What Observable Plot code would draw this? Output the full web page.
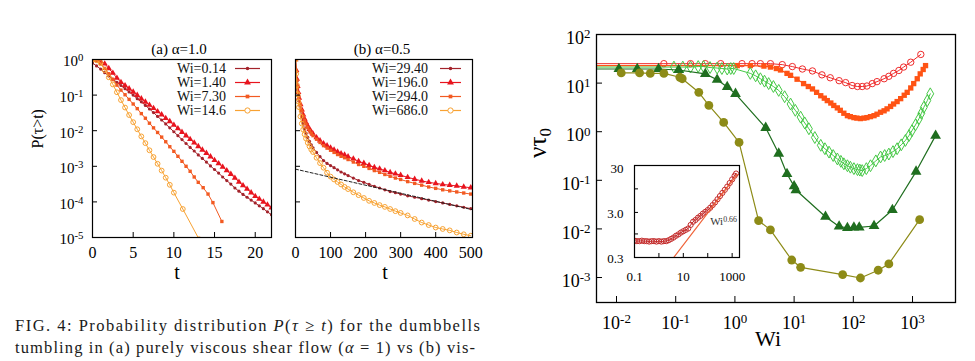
<!DOCTYPE html>
<html>
<head>
<meta charset="utf-8">
<script src="https://cdn.jsdelivr.net/npm/d3@7"></script>
<script src="https://cdn.jsdelivr.net/npm/@observablehq/plot@0.6"></script>
<style>
html,body{margin:0;padding:0;background:#fff;}
#root{position:relative;width:975px;height:361px;overflow:hidden;background:#fff;}
#root svg{position:absolute;}
</style>
</head>
<body>
<div id="root"></div>
<script>
const FONT = "'Liberation Serif','Times New Roman',Times,serif";

// ================= Panel (a): alpha = 1.0 (t, log10 P) =================
const tA = [0,0.5,1,1.5,2,2.5,3,3.5,4,4.5,5,5.5,6,6.5,7,7.5,8,8.5,9,9.5,10,10.5,11,11.5,12,12.5,13,13.5,14,14.5,15,15.5,16,16.5,17,17.5,18,18.5,19,19.5,20,20.5,21,21.5,22];
const logP_a_Wi014 = [-0.10,-0.18,-0.27,-0.37,-0.46,-0.55,-0.64,-0.73,-0.82,-0.91,-1.00,-1.10,-1.19,-1.29,-1.39,-1.49,-1.60,-1.70,-1.81,-1.92,-2.03,-2.14,-2.25,-2.36,-2.47,-2.57,-2.68,-2.78,-2.88,-2.99,-3.09,-3.19,-3.30,-3.40,-3.50,-3.61,-3.70,-3.79,-3.87,-3.95,-4.03,-4.11,-4.19,-4.28,-4.36];
const logP_a_Wi140 = [0.00,-0.02,-0.05,-0.12,-0.25,-0.38,-0.52,-0.64,-0.73,-0.82,-0.91,-1.00,-1.10,-1.19,-1.28,-1.37,-1.46,-1.55,-1.65,-1.74,-1.84,-1.94,-2.04,-2.14,-2.24,-2.34,-2.44,-2.54,-2.63,-2.73,-2.83,-2.92,-3.02,-3.12,-3.22,-3.33,-3.44,-3.54,-3.64,-3.74,-3.84,-3.92,-4.00,-4.08,-4.16];
const tA_Wi730 = [0,0.5,1,1.5,2,2.5,3,3.5,4,4.5,5,5.5,6,6.5,7,7.5,8,8.5,9,9.5,10,10.5,11,11.5,12,12.5,13,13.6,14.2,14.8,15.9];
const logP_a_Wi730 = [0.00,-0.04,-0.12,-0.25,-0.40,-0.56,-0.72,-0.86,-0.99,-1.12,-1.25,-1.38,-1.52,-1.65,-1.79,-1.92,-2.05,-2.18,-2.31,-2.45,-2.58,-2.72,-2.86,-3.00,-3.14,-3.30,-3.45,-3.60,-3.78,-4.02,-4.55];
const tA_Wi146 = [0,0.5,1,1.5,2,2.5,3,3.5,4,4.5,5,5.5,6,6.5,7,7.5,8,8.5,9,9.5,10,11.1,13.1];
const logP_a_Wi146 = [0.00,-0.02,-0.10,-0.30,-0.50,-0.70,-0.92,-1.14,-1.35,-1.56,-1.76,-1.96,-2.16,-2.35,-2.55,-2.74,-2.93,-3.12,-3.32,-3.52,-3.74,-4.20,-5.05];
const labelsA = ["Wi=0.14","Wi=1.40","Wi=7.30","Wi=14.6"];
const xTicksA = [0,5,10,15,20];
const yTicksP = [1,1e-1,1e-2,1e-3,1e-4,1e-5];

// ================= Panel (b): alpha = 0.5 =================
const tB = [0,2,4,6,8,10,14,18,22,26,30,35,40,45,50,60,70,80,90,100,110,120,130,140,150,165,180,195,210,225,240,255,270,285,300,320,340,360,380,400,420,440,460,480,500];
const logP_b_Wi2940 = [0.00,-0.35,-0.62,-0.85,-1.02,-1.17,-1.42,-1.62,-1.80,-1.95,-2.07,-2.19,-2.30,-2.40,-2.48,-2.61,-2.73,-2.84,-2.92,-2.98,-3.04,-3.10,-3.16,-3.21,-3.26,-3.33,-3.40,-3.45,-3.51,-3.56,-3.61,-3.66,-3.71,-3.74,-3.78,-3.83,-3.87,-3.91,-3.95,-3.99,-4.03,-4.07,-4.11,-4.15,-4.19];
const logP_b_Wi1960 = [0.00,-0.30,-0.55,-0.75,-0.92,-1.08,-1.26,-1.41,-1.55,-1.67,-1.77,-1.87,-1.96,-2.03,-2.09,-2.19,-2.28,-2.36,-2.42,-2.48,-2.54,-2.59,-2.64,-2.68,-2.73,-2.79,-2.86,-2.91,-2.97,-3.03,-3.07,-3.12,-3.17,-3.21,-3.25,-3.31,-3.36,-3.41,-3.45,-3.48,-3.51,-3.53,-3.55,-3.58,-3.60];
const logP_b_Wi2940b = [0.00,-0.32,-0.58,-0.78,-0.93,-1.05,-1.26,-1.44,-1.59,-1.71,-1.81,-1.91,-2.00,-2.07,-2.14,-2.24,-2.33,-2.42,-2.49,-2.55,-2.61,-2.67,-2.72,-2.76,-2.81,-2.88,-2.95,-3.00,-3.06,-3.12,-3.17,-3.23,-3.28,-3.33,-3.37,-3.43,-3.48,-3.53,-3.58,-3.62,-3.66,-3.69,-3.72,-3.75,-3.78];
const logP_b_Wi6860 = [0.00,-0.40,-0.72,-0.98,-1.18,-1.34,-1.60,-1.80,-1.97,-2.10,-2.22,-2.34,-2.44,-2.53,-2.60,-2.76,-2.91,-3.04,-3.18,-3.29,-3.37,-3.44,-3.51,-3.58,-3.64,-3.73,-3.81,-3.89,-3.97,-4.03,-4.09,-4.14,-4.20,-4.26,-4.31,-4.38,-4.48,-4.58,-4.65,-4.72,-4.76,-4.80,-4.86,-4.91,-4.95];
const tB_fit = [0,505];
const logP_b_fit = [-3.08,-4.22];
const labelsB = ["Wi=29.40","Wi=196.0","Wi=294.0","Wi=686.0"];
const xTicksB = [0,100,200,300,400,500];

// ================= Main panel: nu*tau0 vs Wi (log10 values) =================
const wiStartLog = -2.34; // plateau curves run in from the left axis
const lwRed = [-1.20,-0.75,-0.50,-0.24,0.12,0.29,0.43,0.60,0.80,0.97,1.14,1.31,1.47,1.61,1.76,1.87,1.98,2.07,2.15,2.23,2.32,2.40,2.52,2.60,2.68,2.77,2.85,2.97,3.14];
const lvRed = [1.40,1.40,1.40,1.40,1.40,1.40,1.40,1.40,1.38,1.34,1.29,1.25,1.17,1.11,1.05,1.01,0.95,0.93,0.93,0.94,0.99,1.03,1.09,1.14,1.20,1.26,1.33,1.43,1.59];
const lwOrange = [0.04,0.26,0.49,0.60,0.70,0.77,0.88,0.94,1.05,1.16,1.24,1.31,1.38,1.45,1.51,1.56,1.62,1.67,1.73,1.78,1.84,1.90,1.95,2.01,2.06,2.12,2.18,2.23,2.29,2.35,2.40,2.46,2.52,2.57,2.63,2.68,2.74,2.80,2.86,2.91,2.97,3.02,3.08,3.13,3.18,3.22];
const lvOrange = [1.36,1.36,1.35,1.33,1.30,1.27,1.20,1.16,1.08,0.99,0.93,0.88,0.81,0.74,0.69,0.64,0.59,0.54,0.49,0.44,0.38,0.33,0.31,0.29,0.28,0.27,0.28,0.29,0.31,0.33,0.36,0.40,0.43,0.47,0.52,0.57,0.62,0.68,0.75,0.81,0.90,0.99,1.09,1.19,1.28,1.36];
const lwLGreen = [-1.03,-0.88,-0.75,-0.62,-0.53,-0.42,-0.30,-0.22,-0.13,-0.07,-0.02,0.26,0.35,0.43,0.50,0.57,0.65,0.74,0.84,0.94,1.02,1.11,1.18,1.25,1.35,1.45,1.52,1.59,1.66,1.73,1.79,1.84,1.90,1.95,2.01,2.07,2.11,2.15,2.22,2.29,2.38,2.46,2.53,2.60,2.67,2.74,2.81,2.88,2.94,2.99,3.05,3.11,3.15,3.19,3.25,3.30];
const lvLGreen = [1.33,1.33,1.33,1.34,1.34,1.32,1.31,1.30,1.29,1.30,1.30,1.20,1.15,1.09,1.04,0.99,0.93,0.85,0.72,0.57,0.44,0.30,0.18,0.06,-0.12,-0.28,-0.35,-0.42,-0.49,-0.56,-0.61,-0.66,-0.70,-0.73,-0.76,-0.78,-0.79,-0.80,-0.76,-0.70,-0.60,-0.52,-0.49,-0.46,-0.41,-0.35,-0.27,-0.18,-0.08,0.02,0.14,0.27,0.38,0.50,0.64,0.78];
const lwDGreen = [-1.96,-1.65,-1.29,-0.95,-0.50,-0.30,-0.13,0.01,0.52,0.74,0.88,1.00,1.03,1.53,1.76,1.90,2.01,2.10,2.35,2.66,3.06,3.39];
const lvDGreen = [1.29,1.29,1.29,1.27,1.19,1.07,0.92,0.78,0.08,-0.45,-0.87,-1.12,-1.20,-1.75,-1.95,-1.98,-1.97,-1.97,-1.94,-1.61,-0.82,-0.08];
const lwOlive = [-1.92,-1.61,-1.43,-1.20,-0.93,-0.89,-0.61,-0.44,-0.19,0.07,0.40,0.60,0.96,1.11,1.82,2.12,2.42,2.60,3.12];
const lvOlive = [1.21,1.21,1.20,1.20,1.12,1.09,0.81,0.54,0.19,-0.22,-1.83,-2.02,-2.64,-2.79,-2.94,-3.01,-2.85,-2.72,-1.81];
const xTicksMain = [1e-2,1e-1,1,10,100,1000];
const yTicksMain = [100,10,1,0.1,0.01,0.001];

// ================= Inset =================
const lwInset = [-1.0,-0.9,-0.8,-0.7,-0.6,-0.5,-0.4,-0.3,-0.2,-0.1,0.0,0.1,0.2,0.3,0.4,0.5,0.6,0.7,0.8,0.9,1.0,1.1,1.2,1.3,1.4,1.5,1.6,1.7,1.8,1.9,2.0,2.1,2.2,2.3,2.4,2.5,2.6,2.7,2.8,2.9,3.0,3.1,3.16];
const lvInset = [-0.15,-0.16,-0.16,-0.15,-0.16,-0.16,-0.17,-0.16,-0.16,-0.17,-0.16,-0.17,-0.16,-0.16,-0.14,-0.11,-0.08,-0.04,-0.01,0.03,0.06,0.09,0.12,0.20,0.27,0.31,0.36,0.40,0.45,0.49,0.53,0.58,0.64,0.70,0.77,0.84,0.91,0.98,1.05,1.13,1.21,1.29,1.34];
const lwInsetFit = [0.61,3.21];
const lvInsetFit = [-0.52,1.32];
const insetFitLabel = {lw: 2.1, lv: 0.27, text: "Wi^0.66"};
const yTicksInsetLab = [0.3,3,30];
const xTicksInsetLab = [0.1,10,1000];

// ================= styles =================
const stylesP = [
  {color:"#a3232b", symbol:"circle", r:1.6},
  {color:"#e8141e", symbol:"triangle", r:2.3},
  {color:"#f25a22", symbol:"square", r:1.9},
  {color:"#f8a232", symbol:"circle", r:2.4, open:true}
];
const stylesMain = [
  {color:"#ef2b2b", symbol:"circle", r:3.2, open:true, lw:1},
  {color:"#ff5314", symbol:"square", r:3.0, lw:1.2},
  {color:"#45c845", symbol:"diamond", r:3.6, open:true, lw:1},
  {color:"#1f6e1f", symbol:"triangle", r:4.0, lw:1.2},
  {color:"#8d8b17", symbol:"circle", r:4.4, lw:1.2}
];

const rowsLin = (xs, ls) => xs.map((x,i)=>({x, y: 10**ls[i]}));
const rowsLog = (lx, ly) => lx.map((x,i)=>({x: 10**x, y: 10**ly[i]}));
const sup10 = d => "10^" + Math.round(Math.log10(d));

function seriesMarks(lineRows, dotRows, s) {
  return [
    Plot.line(lineRows, {x:"x", y:"y", stroke:s.color, strokeWidth:s.lw || 1, clip:true}),
    Plot.dot(dotRows, {x:"x", y:"y", symbol:s.symbol, r:s.r,
      fill: s.open ? "none" : s.color, stroke: s.open ? s.color : "none",
      strokeWidth: s.open ? 1 : 0, clip:true})
  ];
}

function supify(svg) {
  d3.select(svg).selectAll("text").each(function() {
    if (this.querySelector("tspan")) return;
    const m = this.textContent.match(/^(.*?)\^(.+)$/);
    if (!m) return;
    const s = d3.select(this);
    s.text(m[1]);
    s.append("tspan").attr("dy", "-0.45em").attr("font-size", "0.72em").text(m[2]);
  });
}

const symMap = {circle: d3.symbolCircle, triangle: d3.symbolTriangle, square: d3.symbolSquare, diamond: d3.symbolDiamond};
function addLegend(svg, labels, styles, xText, xL1, xL2, y0, dy) {
  const g = d3.select(svg).append("g").attr("font-family", FONT).attr("font-size", 14);
  labels.forEach((lab, i) => {
    const s = styles[i], y = y0 + i * dy;
    g.append("text").attr("x", xText).attr("y", y).attr("dy", "0.34em").attr("text-anchor", "end").attr("fill", "#111").text(lab);
    g.append("line").attr("x1", xL1).attr("x2", xL2).attr("y1", y).attr("y2", y).attr("stroke", s.color).attr("stroke-width", 1.2);
    g.append("path").attr("d", d3.symbol(symMap[s.symbol], Math.PI * s.r * s.r * 1.2)())
      .attr("transform", `translate(${(xL1 + xL2) / 2},${y})`)
      .attr("fill", s.open ? "white" : s.color).attr("stroke", s.open ? s.color : "none");
  });
}

const root = document.getElementById("root");
const baseStyle = {fontFamily: FONT, fontSize: "15px", background: "none", overflow: "visible", color: "#000"};

// ---------- Panel (a) ----------
const fwA = 179, fhA = 178;
const seriesA = [
  rowsLin(tA, logP_a_Wi014), rowsLin(tA, logP_a_Wi140),
  rowsLin(tA_Wi730, logP_a_Wi730), rowsLin(tA_Wi146, logP_a_Wi146)
];
const svgA = Plot.plot({
  width: 290, height: 290, marginLeft: 92, marginRight: 19, marginTop: 59, marginBottom: 53,
  style: baseStyle,
  x: {domain: [0, 22]},
  y: {type: "log", domain: [1e-5, 1]},
  marks: [
    ...seriesA.flatMap((r, i) => seriesMarks(r, r, stylesP[i])),
    Plot.tickY(yTicksP.slice(1, 5), {y: d => d, insetRight: fwA - 5, stroke: "#000"}),
    Plot.tickX(xTicksA.slice(1), {x: d => d, insetTop: fhA - 5, stroke: "#000"}),
    Plot.axisY({ticks: yTicksP, tickFormat: sup10, tickSize: 0, tickPadding: 9, fontSize: 15, dy: 2, label: null}),
    Plot.axisX({ticks: xTicksA, tickSize: 0, tickPadding: 9, fontSize: 16, label: null}),
    Plot.text(["(a) α=1.0"], {text: d => d, frameAnchor: "top", dy: -16, dx: -3, fontSize: 15}),
    Plot.text(["t"], {text: d => d, frameAnchor: "bottom", dy: 41, dx: -5, fontSize: 20}),
    Plot.text(["P(τ>t)"], {text: d => d, frameAnchor: "left", dx: -55, rotate: -90, fontSize: 16}),
    Plot.frame({stroke: "#000", strokeWidth: 1.2})
  ]
});
svgA.style.left = "0px"; svgA.style.top = "0px";
supify(svgA);
addLegend(svgA, labelsA, stylesP, 226, 235, 260, 68.5, 14);
root.appendChild(svgA);

// ---------- Panel (b) ----------
const fwB = 177, fhB = 178;
const seriesB = [
  rowsLin(tB, logP_b_Wi2940), rowsLin(tB, logP_b_Wi1960),
  rowsLin(tB, logP_b_Wi2940b), rowsLin(tB, logP_b_Wi6860)
];
const svgB = Plot.plot({
  width: 210, height: 290, marginLeft: 15, marginRight: 18, marginTop: 59, marginBottom: 53,
  style: baseStyle,
  x: {domain: [0, 505]},
  y: {type: "log", domain: [1e-5, 1]},
  marks: [
    ...seriesB.flatMap((r, i) => seriesMarks(r, r, stylesP[i])),
    Plot.line(rowsLin(tB_fit, logP_b_fit), {x: "x", y: "y", stroke: "#222", strokeWidth: 1, strokeDasharray: "3,2", clip: true}),
    Plot.tickY(yTicksP.slice(1, 5), {y: d => d, insetRight: fwB - 5, stroke: "#000"}),
    Plot.tickX(xTicksB.slice(1, 5), {x: d => d, insetTop: fhB - 5, stroke: "#000"}),
    Plot.axisY({ticks: [], label: null}),
    Plot.axisX({ticks: xTicksB, tickSize: 0, tickPadding: 9, fontSize: 16, label: null}),
    Plot.text(["(b) α=0.5"], {text: d => d, frameAnchor: "top", dy: -16, dx: -2, fontSize: 15}),
    Plot.text(["t"], {text: d => d, frameAnchor: "bottom", dy: 41, dx: 1, fontSize: 20}),
    Plot.frame({stroke: "#000", strokeWidth: 1.2})
  ]
});
svgB.style.left = "280px"; svgB.style.top = "0px";
addLegend(svgB, labelsB, stylesP, 428 - 280, 440 - 280, 461 - 280, 68.5, 14);
root.appendChild(svgB);

// ---------- Main panel ----------
const fwC = 359, fhC = 268;
const mainSets = [
  [lwRed, lvRed, true], [lwOrange, lvOrange, true], [lwLGreen, lvLGreen, true],
  [lwDGreen, lvDGreen, true], [lwOlive, lvOlive, false]
];
const mainMarks = mainSets.flatMap(([lw, lv, plateau], i) => {
  const dots = rowsLog(lw, lv);
  const line = plateau ? [{x: 10 ** wiStartLog, y: 10 ** lv[0]}, ...dots] : dots;
  return seriesMarks(line, dots, stylesMain[i]);
});
const svgC = Plot.plot({
  width: 435, height: 361, marginLeft: 56, marginRight: 20, marginTop: 34, marginBottom: 59,
  style: baseStyle,
  x: {type: "log", domain: [10 ** -2.338, 10 ** 3.726]},
  y: {type: "log", domain: [10 ** -3.514, 100]},
  marks: [
    ...mainMarks,
    Plot.tickY(yTicksMain.slice(1), {y: d => d, insetRight: fwC - 6, stroke: "#000"}),
    Plot.tickX(xTicksMain, {x: d => d, insetTop: fhC - 6, stroke: "#000"}),
    Plot.axisY({ticks: yTicksMain, tickFormat: sup10, tickSize: 0, tickPadding: 6, fontSize: 18, dy: 4, label: null}),
    Plot.axisX({ticks: xTicksMain, tickFormat: sup10, tickSize: 0, tickPadding: 14, fontSize: 18, label: null}),
    Plot.text(["Wi"], {text: d => d, frameAnchor: "bottom", dy: 43, dx: -8, fontSize: 22}),
    Plot.frame({stroke: "#000", strokeWidth: 1.3})
  ]
});
svgC.style.left = "540px"; svgC.style.top = "0px";
supify(svgC);
root.appendChild(svgC);

// ---------- Inset ----------
const fwD = 105, fhD = 92;
const svgD = Plot.plot({
  width: 150, height: 140, marginLeft: 34, marginRight: 11, marginTop: 15, marginBottom: 33,
  style: baseStyle,
  x: {type: "log", domain: [0.1, 2000]},
  y: {type: "log", domain: [0.3, 33]},
  marks: [
    Plot.frame({fill: "white"}),
    Plot.line(rowsLog(lwInset, lvInset), {x: "x", y: "y", stroke: "#c42c2c", strokeWidth: 1, clip: true}),
    Plot.dot(rowsLog(lwInset, lvInset), {x: "x", y: "y", r: 2.6, stroke: "#c42c2c", fill: "none", strokeWidth: 1, clip: true}),
    Plot.line(rowsLog(lwInsetFit, lvInsetFit), {x: "x", y: "y", stroke: "#f0643a", strokeWidth: 1.2, clip: true}),
    Plot.text([insetFitLabel], {x: d => 10 ** d.lw, y: d => 10 ** d.lv, text: "text", textAnchor: "start", fontSize: 11, fill: "#333"}),
    Plot.tickY([1, 3, 10], {y: d => d, insetRight: fwD - 4, stroke: "#000"}),
    Plot.tickX([1, 10, 100, 1000], {x: d => d, insetTop: fhD - 4, stroke: "#000"}),
    Plot.axisY({ticks: yTicksInsetLab, tickFormat: d => d === 3 ? "3.0" : String(d), tickSize: 0, tickPadding: 11, fontSize: 13, dy: 1, label: null}),
    Plot.axisX({ticks: xTicksInsetLab, tickFormat: d => String(d), tickSize: 0, tickPadding: 14, fontSize: 13, label: null}),
    Plot.frame({stroke: "#000", strokeWidth: 1.2})
  ]
});
svgD.style.left = "600px"; svgD.style.top = "150px";
supify(svgD);
root.appendChild(svgD);

// ---------- Overlay: y title of main panel and caption ----------
const ov = d3.create("svg").attr("width", 975).attr("height", 361)
  .style("left", "0px").style("top", "0px").style("pointer-events", "none")
  .attr("font-family", FONT);
const yl = ov.append("text").attr("transform", "translate(546,143) rotate(-90)")
  .attr("text-anchor", "middle").attr("font-size", 25).attr("fill", "#000");
yl.append("tspan").text("ντ");
yl.append("tspan").attr("dy", "0.3em").attr("font-size", "0.68em").text("0");

const cap1 = ov.append("text").attr("x", 15).attr("y", 331).attr("font-size", 16.5)
  .attr("fill", "#1a1a1a").attr("textLength", 465).attr("lengthAdjust", "spacing");
cap1.append("tspan").text("FIG. 4: Probability distribution ");
cap1.append("tspan").attr("font-style", "italic").text("P");
cap1.append("tspan").text("(");
cap1.append("tspan").attr("font-style", "italic").text("τ");
cap1.append("tspan").text(" ≥ ");
cap1.append("tspan").attr("font-style", "italic").text("t");
cap1.append("tspan").text(") for the dumbbells");

const cap2 = ov.append("text").attr("x", 15).attr("y", 353).attr("font-size", 16.5)
  .attr("fill", "#1a1a1a").attr("textLength", 460).attr("lengthAdjust", "spacing");
cap2.append("tspan").text("tumbling in (a) purely viscous shear flow (");
cap2.append("tspan").attr("font-style", "italic").text("α");
cap2.append("tspan").text(" = 1) vs (b) vis-");
root.appendChild(ov.node());
</script>
</body>
</html>
